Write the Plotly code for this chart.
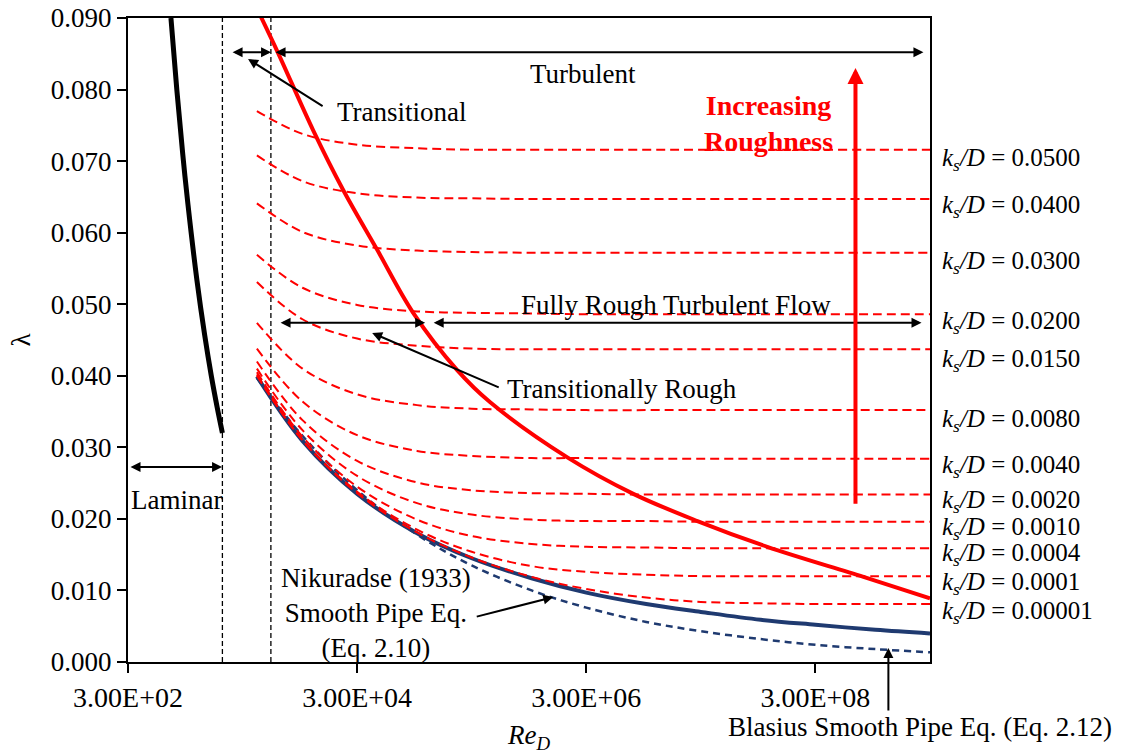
import math
import plotly.graph_objects as go

# Reynolds numbers at which the turbulent friction factors are tabulated
re_grid = [4e3, 1e4, 3e4, 1e5, 3e5, 1e6, 3e6, 1e7, 3e7, 1e8, 3e8, 1e9, 3e9]

# Friction factor lambda for each relative roughness k_s/D
lam_0500 = [0.0770, 0.0738, 0.0723, 0.0718, 0.0716, 0.0716, 0.0716, 0.0716, 0.0716, 0.0716, 0.0716, 0.0716, 0.0716]
lam_0400 = [0.0708, 0.0672, 0.0655, 0.0649, 0.0648, 0.0647, 0.0647, 0.0647, 0.0647, 0.0647, 0.0647, 0.0647, 0.0647]
lam_0300 = [0.0641, 0.0601, 0.0582, 0.0575, 0.0573, 0.0572, 0.0572, 0.0572, 0.0572, 0.0572, 0.0572, 0.0572, 0.0572]
lam_0200 = [0.0569, 0.0523, 0.0499, 0.0490, 0.0488, 0.0487, 0.0486, 0.0486, 0.0486, 0.0486, 0.0486, 0.0486, 0.0486]
lam_0150 = [0.0531, 0.0479, 0.0452, 0.0442, 0.0438, 0.0437, 0.0437, 0.0437, 0.0437, 0.0437, 0.0437, 0.0437, 0.0437]
lam_0080 = [0.0474, 0.0410, 0.0374, 0.0359, 0.0354, 0.0353, 0.0352, 0.0352, 0.0352, 0.0352, 0.0352, 0.0352, 0.0352]
lam_0040 = [0.0438, 0.0364, 0.0317, 0.0295, 0.0288, 0.0285, 0.0285, 0.0284, 0.0284, 0.0284, 0.0284, 0.0284, 0.0284]
lam_0020 = [0.0420, 0.0338, 0.0281, 0.0251, 0.0240, 0.0236, 0.0235, 0.0234, 0.0234, 0.0234, 0.0234, 0.0234, 0.0234]
lam_0010 = [0.0410, 0.0324, 0.0260, 0.0222, 0.0206, 0.0199, 0.0197, 0.0197, 0.0196, 0.0196, 0.0196, 0.0196, 0.0196]
lam_0004 = [0.0405, 0.0315, 0.0245, 0.0199, 0.0176, 0.0165, 0.0161, 0.0160, 0.0159, 0.0159, 0.0159, 0.0159, 0.0159]
lam_0001 = [0.0402, 0.0310, 0.0238, 0.0185, 0.0154, 0.0134, 0.0126, 0.0122, 0.0120, 0.0120, 0.0120, 0.0120, 0.0120]
lam_00001 = [0.0400, 0.0310, 0.0236, 0.0181, 0.0146, 0.0119, 0.0102, 0.0090, 0.0084, 0.0082, 0.0081, 0.0081, 0.0081]

rough_curves = [lam_0500, lam_0400, lam_0300, lam_0200, lam_0150, lam_0080,
                lam_0040, lam_0020, lam_0010, lam_0004, lam_0001, lam_00001]
rough_labels = ["0.0500", "0.0400", "0.0300", "0.0200", "0.0150", "0.0080",
                "0.0040", "0.0020", "0.0010", "0.0004", "0.0001", "0.00001"]
# vertical placement (in lambda units) of the k_s/D labels beside the frame
rough_label_y = [0.0702, 0.0637, 0.0559, 0.0474, 0.0422, 0.0338,
                 0.0273, 0.0224, 0.0187, 0.0150, 0.0110, 0.0069]

# Smooth-pipe relations
lam_nikuradse = [0.0399, 0.0309, 0.0235, 0.0180, 0.0145, 0.0117, 0.0097, 0.0081, 0.0070, 0.0059, 0.0052, 0.0045, 0.0040]
lam_blasius = [0.0397, 0.0316, 0.0240, 0.0178, 0.0135, 0.0100, 0.0076, 0.0056, 0.0043, 0.0032, 0.0024, 0.0018, 0.00135]

# Laminar branch
re_laminar = [711, 800, 900, 1000, 1200, 1400, 1600, 1800, 2000]
lam_laminar = [0.0900, 0.0800, 0.0711, 0.0640, 0.0533, 0.0457, 0.0400, 0.0356, 0.0320]

# Onset of fully rough flow
re_rough_onset = [4.27e3, 6.13e3, 1.24e4, 2.26e4, 4.49e4, 9.25e4, 2.24e5, 4.35e5,
                  2.05e6, 7.72e6, 2.80e7, 1.14e8, 7.88e8, 3.0e9]
lam_rough_onset = [0.0904, 0.0851, 0.0743, 0.0660, 0.0576, 0.0488, 0.0408, 0.0363,
                   0.0286, 0.0235, 0.0197, 0.0161, 0.0119, 0.0089]

# Regime boundaries (laminar / transitional / turbulent)
re_bounds = [2000, 5300]

# Axis ticks
x_tickvals = [3e2, 3e4, 3e6, 3e8]
x_ticktext = ["3.00E+02", "3.00E+04", "3.00E+06", "3.00E+08"]
x_range = [300, 3e9]
y_range = [0.0, 0.09]

FONT = "Liberation Serif, Times New Roman, serif"
RED = "#FF0000"
NAVY = "#1F3A70"
L = math.log10

fig = go.Figure()

for rb in re_bounds:
    fig.add_trace(go.Scatter(x=[rb, rb], y=y_range, mode="lines",
                             line=dict(color="black", width=1.3, dash="5px,3px"),
                             hoverinfo="skip"))

fig.add_trace(go.Scatter(x=re_laminar, y=lam_laminar, mode="lines",
                         line=dict(color="black", width=5, shape="spline")))

fig.add_trace(go.Scatter(x=re_grid, y=lam_blasius, mode="lines",
                         line=dict(color=NAVY, width=2.5, dash="7px,5px", shape="spline")))
fig.add_trace(go.Scatter(x=re_grid, y=lam_nikuradse, mode="lines",
                         line=dict(color=NAVY, width=4, shape="spline")))

for curve in rough_curves:
    fig.add_trace(go.Scatter(x=re_grid, y=curve, mode="lines",
                             line=dict(color=RED, width=2, dash="9px,5px", shape="spline")))

fig.add_trace(go.Scatter(x=re_rough_onset, y=lam_rough_onset, mode="lines",
                         line=dict(color=RED, width=4, shape="spline")))


def arrow(re0, y0, re1, y1, color="black", width=2, both=False, size=1.0):
    return dict(x=L(re1), y=y1, ax=L(re0), ay=y0, xref="x", yref="y",
                axref="x", ayref="y", text="", showarrow=True,
                arrowhead=2, startarrowhead=2,
                arrowside="end+start" if both else "end",
                arrowsize=size, startarrowsize=size,
                arrowwidth=width, arrowcolor=color)


def label(re, y, text, size=27, color="black"):
    return dict(x=L(re), y=y, xref="x", yref="y", text=text, showarrow=False,
                xanchor="center", yanchor="middle",
                font=dict(family=FONT, size=size, color=color))


annotations = [
    arrow(2380, 0.0852, 5320, 0.0852, both=True),
    arrow(5650, 0.0852, 2.63e9, 0.0852, both=True),
    arrow(15450, 0.07756, 3350, 0.08427),
    arrow(6250, 0.0474, 1.177e5, 0.0474, both=True),
    arrow(1.355e5, 0.0474, 2.53e9, 0.0474, both=True),
    arrow(5.32e5, 0.03829, 40570, 0.04598),
    arrow(306, 0.02725, 1987, 0.02725, both=True),
    arrow(3.22e5, 0.00629, 1.545e6, 0.00908),
    arrow(6.71e8, 0.0219, 6.71e8, 0.0830, color=RED, width=4, size=0.8),
    dict(x=L(1.30e9), y=0.00196, xref="x", yref="y", ax=0, ay=64,
         text="", showarrow=True, arrowhead=2, arrowsize=1.0,
         arrowwidth=2, arrowcolor="black"),
    label(2.82e6, 0.0822, "Turbulent"),
    label(74150, 0.0769, "Transitional"),
    label(1.166e8, 0.0753, "<b>Increasing<br>Roughness</b>", size=28, color=RED),
    label(1.833e7, 0.0499, "Fully Rough Turbulent Flow"),
    label(6.19e6, 0.0381, "Transitionally Rough"),
    label(788, 0.0226, "Laminar"),
    label(43950, 0.00685, "Nikuradse (1933)<br>Smooth Pipe Eq.<br>(Eq. 2.10)"),
    dict(x=0.9875, y=-0.101, xref="paper", yref="paper",
         text="Blasius Smooth Pipe Eq. (Eq. 2.12)", showarrow=False,
         xanchor="center", yanchor="middle",
         font=dict(family=FONT, size=27, color="black")),
]

for txt, yv in zip(rough_labels, rough_label_y):
    annotations.append(dict(x=1.0, y=yv, xref="paper", yref="y", xshift=10,
                            text="<i>k<sub>s</sub>/D</i> = " + txt,
                            showarrow=False, xanchor="left", yanchor="middle",
                            font=dict(family=FONT, size=25, color="black")))

fig.update_layout(
    width=1122, height=754,
    margin=dict(l=128, r=192, t=18, b=92),
    paper_bgcolor="white", plot_bgcolor="white",
    showlegend=False,
    font=dict(family=FONT, size=26, color="black"),
    annotations=annotations,
    xaxis=dict(type="log", range=[L(x_range[0]), L(x_range[1])],
               tickvals=x_tickvals, ticktext=x_ticktext,
               tickfont=dict(size=28),
               ticks="outside", ticklen=9, tickwidth=1.5, tickcolor="black",
               showline=True, linecolor="black", linewidth=2, mirror=True,
               showgrid=False, zeroline=False, automargin=False,
               title=dict(text="<i>Re<sub>D</sub></i>", font=dict(size=27), standoff=14)),
    yaxis=dict(range=y_range, dtick=0.01, tickformat=".3f",
               tickfont=dict(size=27),
               ticks="outside", ticklen=9, tickwidth=1.5, tickcolor="black",
               showline=True, linecolor="black", linewidth=2, mirror=True,
               showgrid=False, zeroline=False, automargin=False,
               title=dict(text="λ", font=dict(size=27), standoff=12)),
)

fig.write_html("out.html")
